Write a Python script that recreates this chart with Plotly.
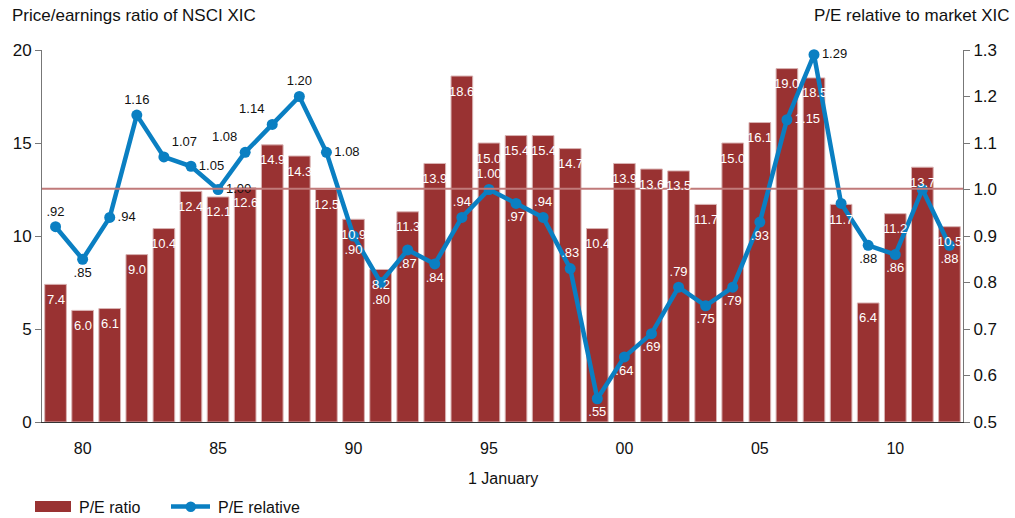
import plotly.graph_objects as go

years = list(range(1979, 2013))
pe_ratio = [7.4, 6.0, 6.1, 9.0, 10.4, 12.4, 12.1, 12.6, 14.9, 14.3, 12.5, 10.9, 8.2, 11.3,
            13.9, 18.6, 15.0, 15.4, 15.4, 14.7, 10.4, 13.9, 13.6, 13.5, 11.7, 15.0, 16.1,
            19.0, 18.5, 11.7, 6.4, 11.2, 13.7, 10.5]
pe_relative = [0.92, 0.85, 0.94, 1.16, 1.07, 1.05, 1.00, 1.08, 1.14, 1.20, 1.08, 0.90, 0.80,
               0.87, 0.84, 0.94, 1.00, 0.97, 0.94, 0.83, 0.55, 0.64, 0.69, 0.79, 0.75, 0.79,
               0.93, 1.15, 1.29, 0.97, 0.88, 0.86, 1.00, 0.88]
# years whose relative value is left unlabelled
unlabelled = {2008, 2011}
# labels set lower than usual so they clear the bar value
dropped = {1991}
tick_years = [1980, 1985, 1990, 1995, 2000, 2005, 2010]
tick_text = ["80", "85", "90", "95", "00", "05", "10"]

# placement and colour of each relative-value label
label_pos = ["top center", "bottom center", "middle right", "top center", "top right",
             "middle right", "middle right", "top left", "top left", "top center",
             "middle right", "bottom center", "bottom center", "bottom center",
             "bottom center", "top center", "top center", "bottom center", "top center",
             "top center", "bottom center", "bottom center", "bottom center", "top center",
             "bottom center", "bottom center", "bottom center", "middle right",
             "middle right", "bottom center", "bottom center", "bottom center",
             "bottom center", "bottom center"]
dark_labels = {1979, 1980, 1981, 1982, 1983, 1984, 1985, 1986, 1987, 1988, 1989, 2007, 2009}

BAR = "#993232"
LINE = "#0a7fc2"
FONT = "Liberation Sans, Arial, sans-serif"

# plot-area geometry in pixels (used for the hand-built legend and titles)
W, H = 1015, 518
L, R, T, B = 42, 52, 50, 96
PW, PH = W - L - R, H - T - B


def px_x(x):
    return (x - L) / PW


def px_y(y):
    return (H - B - y) / PH


def fmt(v):
    s = f"{v:.2f}"
    return s[1:] if s.startswith("0") else s


rel_text = ["" if (y in unlabelled or y in dropped) else fmt(v)
            for y, v in zip(years, pe_relative)]
rel_colors = ["#111111" if y in dark_labels else "white" for y in years]

fig = go.Figure()
fig.add_trace(go.Bar(
    x=years, y=pe_ratio, name="P/E ratio",
    marker=dict(color=BAR, line=dict(color="#d9b3b3", width=1)),
    width=0.8, yaxis="y", showlegend=False,
))
fig.add_trace(go.Scatter(
    x=years, y=pe_relative, name="P/E relative",
    mode="lines+markers+text",
    line=dict(color=LINE, width=4.5),
    marker=dict(color=LINE, size=11),
    text=rel_text, textposition=label_pos,
    textfont=dict(color=rel_colors, size=13, family=FONT),
    yaxis="y2", cliponaxis=False, showlegend=False,
))

avg_pe = sum(pe_ratio) / len(pe_ratio)
shapes = [
    dict(type="line", xref="paper", x0=0, x1=1, yref="y", y0=avg_pe, y1=avg_pe,
         line=dict(color="#c07a7a", width=2), layer="above"),
    # legend swatches
    dict(type="rect", xref="paper", yref="paper", x0=px_x(35), x1=px_x(71),
         y0=px_y(512), y1=px_y(501), fillcolor=BAR, line=dict(width=0)),
    dict(type="line", xref="paper", yref="paper", x0=px_x(171), x1=px_x(210),
         y0=px_y(506.5), y1=px_y(506.5), line=dict(color=LINE, width=4.5)),
    dict(type="circle", xref="paper", yref="paper", x0=px_x(185.5), x1=px_x(196),
         y0=px_y(512), y1=px_y(501.5), fillcolor=LINE, line=dict(width=0)),
]

annotations = [
    dict(text="Price/earnings ratio of NSCI XIC", x=px_x(10), y=px_y(15),
         xanchor="left", font=dict(size=17)),
    dict(text="P/E relative to market XIC", x=px_x(1012), y=px_y(15),
         xanchor="right", font=dict(size=17)),
    dict(text="1 January", x=0.5, y=px_y(478), xanchor="center", font=dict(size=16)),
    dict(text="P/E ratio", x=px_x(77), y=px_y(507), xanchor="left", font=dict(size=16)),
    dict(text="P/E relative", x=px_x(216), y=px_y(507), xanchor="left",
         font=dict(size=16)),
]
for a in annotations:
    a.update(xref="paper", yref="paper", yanchor="middle", showarrow=False)

# value labels just inside the top of each bar
for yr, v in zip(years, pe_ratio):
    annotations.append(dict(
        text=f"{v:.1f}", x=yr, y=v, xref="x", yref="y", yanchor="middle",
        xanchor="center", yshift=-15, showarrow=False,
        font=dict(size=13, color="white"),
    ))

# relative-value labels pushed further below their markers
for yr, v in zip(years, pe_relative):
    if yr in dropped:
        annotations.append(dict(
            text=fmt(v), x=yr, y=v, xref="x", yref="y2", yanchor="middle",
            xanchor="center", yshift=-17, showarrow=False,
            font=dict(size=13, color="white"),
        ))

fig.update_layout(
    width=W, height=H,
    margin=dict(l=L, r=R, t=T, b=B, autoexpand=False),
    paper_bgcolor="white", plot_bgcolor="white",
    font=dict(family=FONT, color="#111111", size=16),
    bargap=0.2,
    showlegend=False,
    xaxis=dict(range=[1978.5, 2012.5], tickvals=tick_years, ticktext=tick_text,
               showgrid=False, zeroline=False, showline=True, linecolor="#333333",
               linewidth=1, ticks="", tickfont=dict(size=16), ticklabelstandoff=12),
    yaxis=dict(range=[0, 20], tickvals=[0, 5, 10, 15, 20], showgrid=False,
               zeroline=False, showline=True, linecolor="#777777", linewidth=1,
               ticks="outside", ticklen=6, tickcolor="#777777",
               tickfont=dict(size=17)),
    yaxis2=dict(range=[0.5, 1.3], overlaying="y", side="right",
                tickvals=[0.5, 0.6, 0.7, 0.8, 0.9, 1.0, 1.1, 1.2, 1.3],
                tickformat=".1f", showgrid=False, zeroline=False, showline=True,
                linecolor="#777777", linewidth=1, ticks="outside", ticklen=6,
                tickcolor="#777777", tickfont=dict(size=17)),
    shapes=shapes,
    annotations=annotations,
)

fig.write_html("out.html")
